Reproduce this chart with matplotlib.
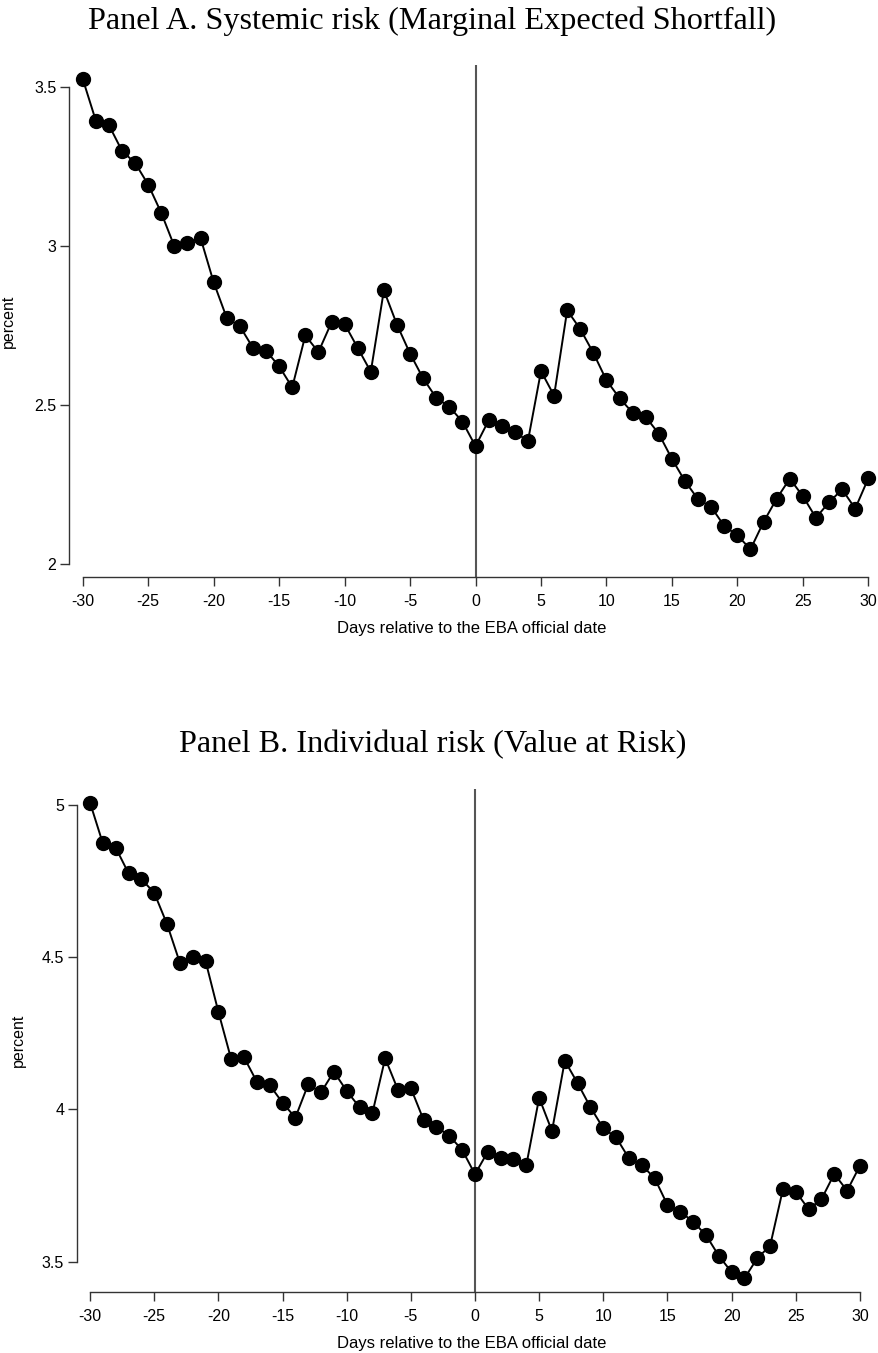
import matplotlib
matplotlib.use("Agg")
import matplotlib.pyplot as plt

# ---- data ----
days = list(range(-30, 31))

mes_values = [
    3.524, 3.393, 3.379, 3.298, 3.260, 3.192, 3.103, 2.998, 3.008, 3.024,
    2.885, 2.773, 2.747, 2.679, 2.670, 2.621, 2.555, 2.718, 2.666, 2.759,
    2.754, 2.679, 2.604, 2.860, 2.752, 2.661, 2.583, 2.522, 2.494, 2.447,
    2.370,
    2.451, 2.433, 2.415, 2.386, 2.606, 2.529, 2.797, 2.738, 2.663, 2.577,
    2.521, 2.475, 2.462, 2.409, 2.330, 2.260, 2.203, 2.179, 2.119, 2.090,
    2.046, 2.132, 2.205, 2.268, 2.213, 2.145, 2.194, 2.234, 2.174, 2.269,
]

var_values = [
    5.008, 4.874, 4.860, 4.776, 4.757, 4.712, 4.609, 4.482, 4.502, 4.488,
    4.321, 4.165, 4.171, 4.091, 4.080, 4.022, 3.973, 4.082, 4.056, 4.124,
    4.061, 4.007, 3.987, 4.168, 4.064, 4.070, 3.965, 3.943, 3.913, 3.867,
    3.787,
    3.861, 3.839, 3.836, 3.817, 4.038, 3.929, 4.160, 4.086, 4.007, 3.938,
    3.908, 3.839, 3.817, 3.774, 3.686, 3.664, 3.631, 3.587, 3.519, 3.465,
    3.445, 3.511, 3.552, 3.738, 3.730, 3.672, 3.705, 3.788, 3.733, 3.815,
]

x_ticks = [-30, -25, -20, -15, -10, -5, 0, 5, 10, 15, 20, 25, 30]
x_ticklabels = ["-30", "-25", "-20", "-15", "-10", "-5", "0", "5", "10", "15", "20", "25", "30"]
mes_yticks = [2.0, 2.5, 3.0, 3.5]
mes_yticklabels = ["2", "2.5", "3", "3.5"]
var_yticks = [3.5, 4.0, 4.5, 5.0]
var_yticklabels = ["3.5", "4", "4.5", "5"]

title_a = "Panel A. Systemic risk (Marginal Expected Shortfall)"
title_b = "Panel B. Individual risk (Value at Risk)"
xlabel = "Days relative to the EBA official date"
ylabel = "percent"

# ---- figure ----
W, H = 879, 1353
fig = plt.figure(figsize=(W / 100, H / 100), dpi=100)
fig.patch.set_facecolor("white")

SANS = ["Liberation Sans", "DejaVu Sans"]
SERIF = ["Liberation Serif", "DejaVu Serif"]


def px_axes(left, top, right, bottom):
    return fig.add_axes([left / W, 1 - bottom / H, (right - left) / W, (bottom - top) / H])


def style(ax, yvals, yticks, yticklabels, xlim, ylim, ylab_x_px, left_px, right_px,
          top_px, bottom_px):
    ax.plot(days, yvals, color="black", lw=1.4, marker="o", markersize=10,
            markerfacecolor="black", markeredgecolor="black", zorder=3,
            clip_on=False)
    ax.axvline(0, color="#555555", lw=1.5, zorder=2)
    ax.set_xlim(*xlim)
    ax.set_ylim(*ylim)
    for s in ["top", "right"]:
        ax.spines[s].set_visible(False)
    for s in ["left", "bottom"]:
        ax.spines[s].set_color("#333333")
        ax.spines[s].set_linewidth(1.0)
    ax.spines["left"].set_bounds(yticks[0], yticks[-1])
    ax.spines["bottom"].set_bounds(x_ticks[0], x_ticks[-1])
    ax.set_xticks(x_ticks)
    ax.set_xticklabels(x_ticklabels, fontfamily=SANS, fontsize=11.5)
    ax.set_yticks(yticks)
    ax.set_yticklabels(yticklabels, fontfamily=SANS, fontsize=11.5)
    ax.tick_params(axis="both", direction="out", length=6.5, width=1.0,
                   color="#333333", labelcolor="black")
    ax.tick_params(axis="x", pad=5.5)
    ax.tick_params(axis="y", pad=2.5)
    ax.set_facecolor("none")
    hpx = bottom_px - top_px
    wpx = right_px - left_px
    ax.set_xlabel(xlabel, fontfamily=SANS, fontsize=12, va="center")
    ax.xaxis.set_label_coords(0.5, -(51.0 / hpx))
    ax.set_ylabel(ylabel, fontfamily=SANS, fontsize=11.5, va="center")
    ax.yaxis.set_label_coords((ylab_x_px - left_px) / wpx, 0.5)


# Panel A
la, ta, ra, ba = 69, 65, 875, 577.3
axA = px_axes(la, ta, ra, ba)
style(axA, mes_values, mes_yticks, mes_yticklabels,
      (-31.05, 30.51), (1.958, 3.568), 8, la, ra, ta, ba)

# Panel B
lb, tb, rb, bb = 76.7, 789, 867, 1292.3
axB = px_axes(lb, tb, rb, bb)
style(axB, var_values, var_yticks, var_yticklabels,
      (-31.04, 30.55), (3.399, 5.053), 18, lb, rb, tb, bb)

fig.text(432 / W, 1 - 21 / H, title_a, ha="center", va="center",
         fontfamily=SERIF, fontsize=23.2)
fig.text(433 / W, 1 - 745 / H, title_b, ha="center", va="center",
         fontfamily=SERIF, fontsize=23.2)

fig.savefig("out.png", dpi=100, facecolor="white")
